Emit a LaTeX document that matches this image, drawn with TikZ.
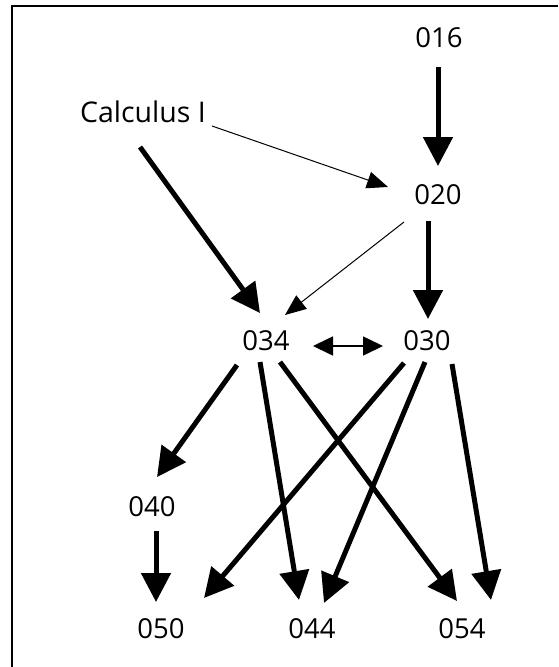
\documentclass[tikz,border=0pt]{standalone}
\usepackage{fontspec}
\setmainfont{Open Sans}
\usetikzlibrary{arrows.meta}
\tikzset{
  lbl/.style={inner sep=0pt, font=\fontsize{27.5}{32}\selectfont},
  calc/.style={inner sep=0pt, font=\fontsize{28.5}{33}\selectfont},
  heavy/.style={line width=5pt, -{Triangle[length=29pt,width=29pt]}},
  light/.style={line width=1pt, -{Triangle[length=21pt,width=17pt]}},
  both/.style={line width=1.6pt, {Triangle[length=20pt,width=19pt]}-{Triangle[length=20pt,width=19pt]}},
  frame/.style={line width=1.7pt}
}
\begin{document}
\begin{tikzpicture}[x=1pt,y=-1pt]
\useasboundingbox (0,0) rectangle (558,667);
\draw[frame] (12,667) -- (12,6) -- (558,6);
\node[lbl] (n016) at (439,38) {016};
\node[calc] (calc) at (143,112) {Calculus I};
\node[lbl] (n020) at (438,195) {020};
\node[lbl] (n034) at (266,341) {034};
\node[lbl] (n030) at (427,341) {030};
\node[lbl] (n040) at (152,507) {040};
\node[lbl] (n050) at (161,629) {050};
\node[lbl] (n044) at (312,629) {044};
\node[lbl] (n054) at (462,629) {054};
% arrows
\draw[heavy] ([shift={(-1,29)}]n016.center) -- ([shift={(0,-29)}]n020.center);
\draw[light] ([shift={(69,14)}]calc.center) -- ([shift={(-50,-8)}]n020.center);
\draw[heavy] ([shift={(-3,35)}]calc.center) -- ([shift={(-6,-28)}]n034.center);
\draw[light] ([shift={(-34,27)}]n020.center) -- ([shift={(19,-26)}]n034.center);
\draw[heavy] ([shift={(-10,26)}]n020.center) -- ([shift={(1,-22)}]n030.center);
\draw[both] ([shift={(47,5)}]n034.center) -- ([shift={(-44,5)}]n030.center);
\draw[heavy] ([shift={(-29,24)}]n034.center) -- ([shift={(5,-30)}]n040.center);
\draw[heavy] ([shift={(-6,21)}]n034.center) -- ([shift={(-13,-29)}]n044.center);
\draw[heavy] ([shift={(14,21)}]n034.center) -- ([shift={(-5,-28)}]n054.center);
\draw[heavy] ([shift={(-23,22)}]n030.center) -- ([shift={(43,-31)}]n050.center);
\draw[heavy] ([shift={(-2,21)}]n030.center) -- ([shift={(12,-26)}]n044.center);
\draw[heavy] ([shift={(25,23)}]n030.center) -- ([shift={(29,-29)}]n054.center);
\draw[heavy] ([shift={(4,24)}]n040.center) -- ([shift={(-5,-27)}]n050.center);
\end{tikzpicture}
\end{document}
